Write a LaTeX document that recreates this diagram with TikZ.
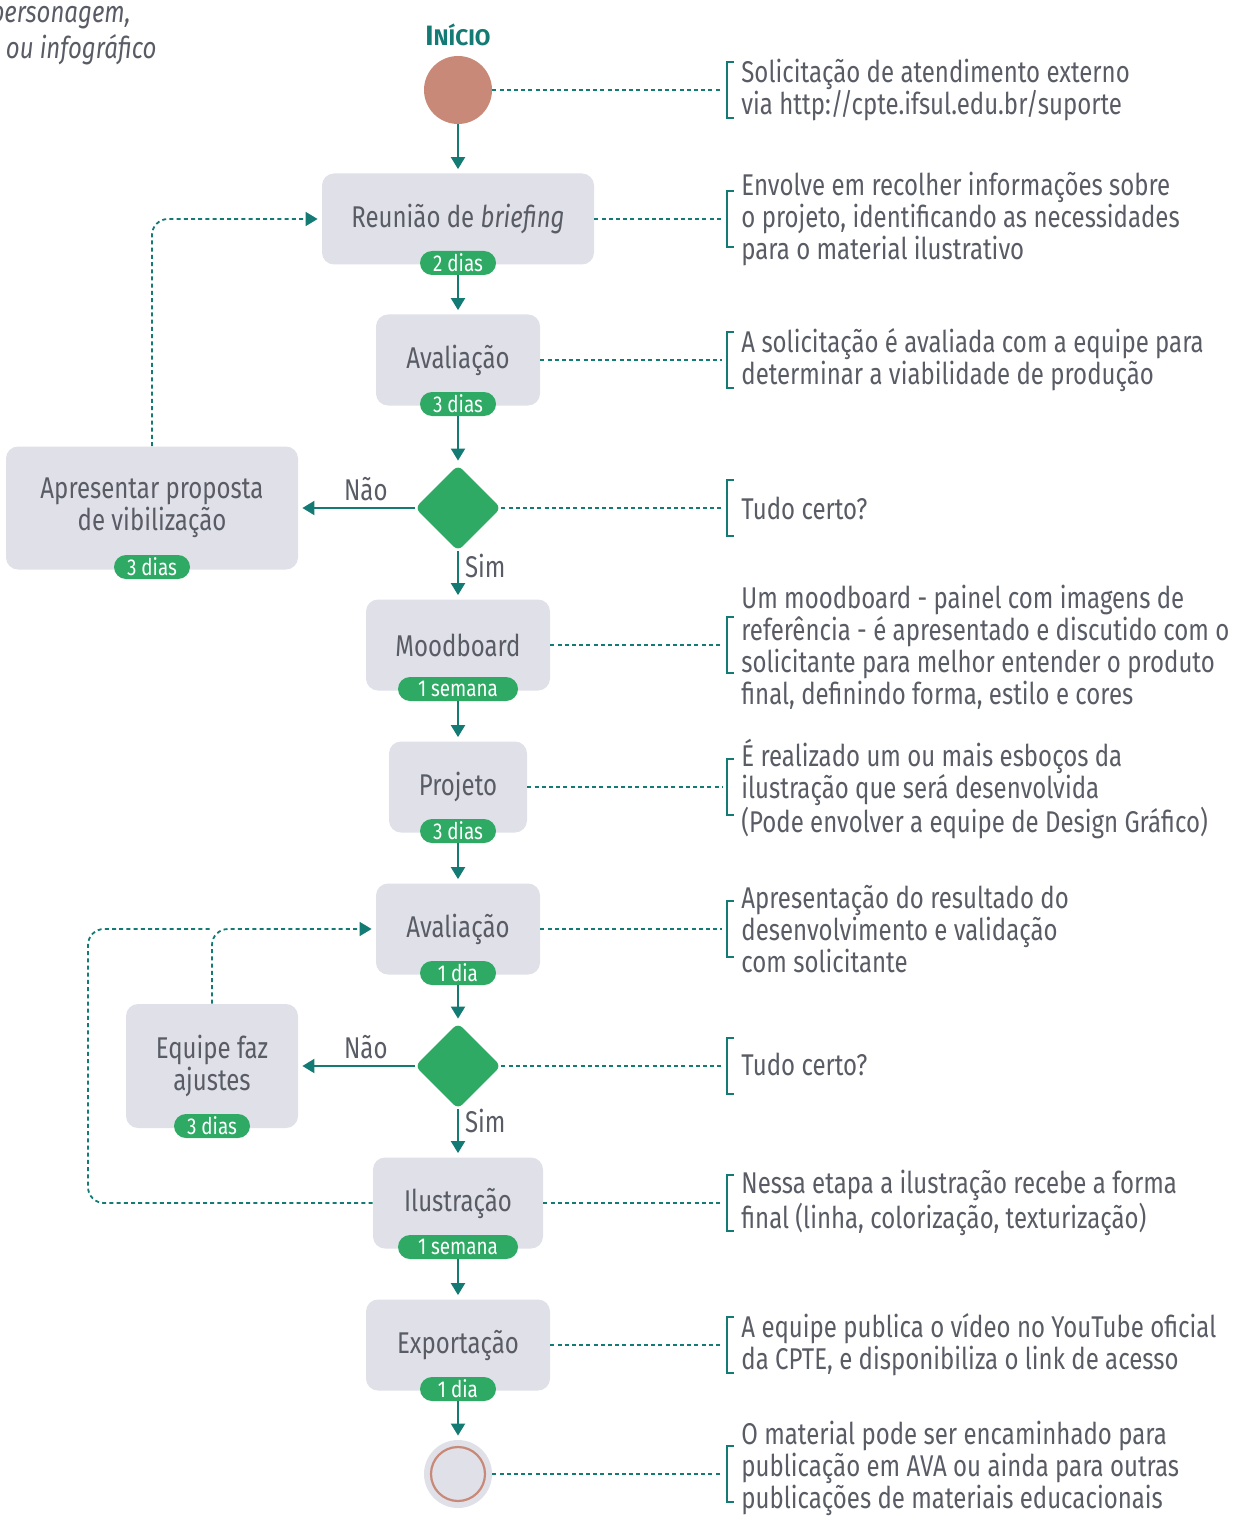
\documentclass[tikz,border=0pt]{standalone}
\usepackage{fontspec}
\setmainfont{Fira Sans}[FakeStretch=0.8]
\newfontfamily\badgefont{Fira Sans}[FakeStretch=0.82]
\newfontfamily\titlefont{Fira Sans}
\usetikzlibrary{arrows.meta,shapes.geometric,calc}
\definecolor{tealc}{HTML}{137B73}
\definecolor{grn}{HTML}{2EAA64}
\definecolor{boxg}{HTML}{DFE0E8}
\definecolor{txtg}{HTML}{595C65}
\definecolor{salmon}{HTML}{C98978}
\newcommand\mybracket[1]{\draw[brk] ($(#1)+(7,-28)$) -- ($(#1)+(0,-28)$) -- ($(#1)+(0,28)$) -- ($(#1)+(7,28)$);}
\begin{document}
\begin{tikzpicture}[x=0.5pt,y=-0.5pt,
  stepbox/.style={fill=boxg, rounded corners=6pt, inner sep=0pt, align=center, text=txtg, font=\fontsize{15}{16}\selectfont},
  badge/.style={fill=grn, rounded corners=6pt, text=white, inner sep=0pt, minimum height=12pt, minimum width=38pt, font=\badgefont\fontsize{11.5}{12}\selectfont},
  decision/.style={diamond, fill=grn, minimum width=43pt, minimum height=43pt, inner sep=0pt, rounded corners=3pt},
  arr/.style={draw=tealc, line width=1pt, -{Triangle[width=7pt,length=6pt]}, shorten >=2pt},
  dotline/.style={draw=tealc, line width=0.9pt, dash pattern=on 2pt off 1.6pt},
  dotarr/.style={dotline, -{Triangle[width=7pt,length=6pt]}, shorten >=2pt},
  brk/.style={draw=tealc, line width=1.4pt},
  rtext/.style={anchor=west, align=left, inner sep=0pt, text=txtg, font=\fontsize{15}{16}\selectfont},
  lbl/.style={text=txtg, inner sep=0pt, font=\fontsize{15}{16}\selectfont}]
\useasboundingbox (0,0) rectangle (1249,1519);
\clip (0,0) rectangle (1249,1519);

% top-left fragments
\node[anchor=east, inner sep=0pt, text=txtg, font=\itshape\fontsize{15}{16}\selectfont] (frag1) at (131,18) {personagem,};
\node[anchor=east, inner sep=0pt, text=txtg, font=\itshape\fontsize{15}{16}\selectfont] (frag2) at (157,50) {ou infográfico};

% start
\node[text=tealc, inner sep=0pt] (titulo) at (458,35) {\titlefont\bfseries\fontsize{14}{14}\selectfont I\fontsize{11.3}{14}\selectfont NÍCIO};
\node[circle, fill=salmon, minimum size=34pt, inner sep=0pt] (start) at (458,90) {};

% main column
\node[stepbox, minimum width=136pt, minimum height=45.5pt] (reu) at (458,219) {Reunião de \textit{briefing}};
\node[badge] (b1) at (458,263) {2 dias};
\node[stepbox, minimum width=82pt, minimum height=45.5pt] (av1) at (458,360) {Avaliação};
\node[badge] (b2) at (458,404) {3 dias};
\node[decision] (d1) at (458,508) {};
\node[stepbox, minimum width=146pt, minimum height=61.5pt] (apr) at (152,508) {Apresentar proposta\\de vibilização};
\node[badge] (b3) at (152,567) {3 dias};
\node[stepbox, minimum width=92pt, minimum height=45.5pt] (mood) at (458,645) {Moodboard};
\node[badge, minimum width=60pt] (b4) at (458,689) {1 semana};
\node[stepbox, minimum width=69pt, minimum height=45.5pt] (proj) at (458,787) {Projeto};
\node[badge] (b5) at (458,831) {3 dias};
\node[stepbox, minimum width=82pt, minimum height=45.5pt] (av2) at (458,929) {Avaliação};
\node[badge] (b6) at (458,973) {1 dia};
\node[decision] (d2) at (458,1066) {};
\node[stepbox, minimum width=86pt, minimum height=62pt] (eq) at (212,1066) {Equipe faz\\ajustes};
\node[badge] (b7) at (212,1126) {3 dias};
\node[stepbox, minimum width=85pt, minimum height=45.5pt] (ilu) at (458,1203) {Ilustração};
\node[badge, minimum width=60pt] (b8) at (458,1247) {1 semana};
\node[stepbox, minimum width=92pt, minimum height=45.5pt] (exp) at (458,1345) {Exportação};
\node[badge] (b9) at (458,1389) {1 dia};
\node[circle, fill=boxg, minimum size=34pt, inner sep=0pt] (fim) at (458,1474) {};
\node[circle, draw=salmon, line width=1.1pt, minimum size=27pt, inner sep=0pt] (fimring) at (fim) {};

% arrows
\draw[arr] (start) -- (reu);
\draw[arr] (b1) -- (av1);
\draw[arr] (b2) -- (d1);
\draw[arr] (d1) -- node[lbl, pos=0.42, above=3pt] (nao1) {Não} (apr);
\draw[arr] (d1) -- node[lbl, pos=0.3, right=3pt] (sim1) {Sim} (mood);
\draw[arr] (b4) -- (proj);
\draw[arr] (b5) -- (av2);
\draw[arr] (b6) -- (d2);
\draw[arr] (d2) -- node[lbl, pos=0.42, above=3pt] (nao2) {Não} (eq);
\draw[arr] (d2) -- node[lbl, pos=0.25, right=3pt] (sim2) {Sim} (ilu);
\draw[arr] (b8) -- (exp);
\draw[arr] (b9) -- (fim);

% loops
\draw[dotarr, rounded corners=8pt] (apr.north) |- (reu.west);
\draw[dotarr, rounded corners=8pt] (eq.north) |- (av2.west);
\coordinate (loopL) at (88,929);
\draw[dotline, rounded corners=8pt] (ilu.west) -| (loopL) -- (eq.north |- loopL);

% right annotations
\coordinate (k1) at (727,90);
\coordinate (k2) at (727,219);
\coordinate (k3) at (727,360);
\coordinate (k4) at (727,508);
\coordinate (k5) at (727,645);
\coordinate (k6) at (727,787);
\coordinate (k7) at (727,929);
\coordinate (k8) at (727,1066);
\coordinate (k9) at (727,1203);
\coordinate (k10) at (727,1345);
\coordinate (k11) at (727,1474);

\draw[dotline, shorten >=2.5pt] (start) -- (k1);
\draw[dotline, shorten >=2.5pt] (reu) -- (k2);
\draw[dotline, shorten >=2.5pt] (av1) -- (k3);
\draw[dotline, shorten >=2.5pt] (d1) -- (k4);
\draw[dotline, shorten >=2.5pt] (mood) -- (k5);
\draw[dotline, shorten >=2.5pt] (proj) -- (k6);
\draw[dotline, shorten >=2.5pt] (av2) -- (k7);
\draw[dotline, shorten >=2.5pt] (d2) -- (k8);
\draw[dotline, shorten >=2.5pt] (ilu) -- (k9);
\draw[dotline, shorten >=2.5pt] (exp) -- (k10);
\draw[dotline, shorten >=2.5pt] (fim) -- (k11);

\foreach \k in {k1,k2,k3,k4,k5,k6,k7,k8,k9,k10,k11} {\mybracket{\k}}

\node[rtext] (r1) at ($(k1)+(14,0)$) {Solicitação de atendimento externo\\via http://cpte.ifsul.edu.br/suporte};
\node[rtext] (r2) at ($(k2)+(14,0)$) {Envolve em recolher informações sobre\\o projeto, identificando as necessidades\\para o material ilustrativo};
\node[rtext] (r3) at ($(k3)+(14,0)$) {A solicitação é avaliada com a equipe para\\determinar a viabilidade de produção};
\node[rtext] (r4) at ($(k4)+(14,0)$) {Tudo certo?};
\node[rtext] (r5) at ($(k5)+(14,2)$) {Um moodboard - painel com imagens de\\referência - é apresentado e discutido com o\\solicitante para melhor entender o produto\\final, definindo forma, estilo e cores};
\node[rtext] (r6) at ($(k6)+(14,2)$) {É realizado um ou mais esboços da\\ilustração que será desenvolvida\\(Pode envolver a equipe de Design Gráfico)};
\node[rtext] (r7) at ($(k7)+(14,0)$) {Apresentação do resultado do\\desenvolvimento e validação\\com solicitante};
\node[rtext] (r8) at ($(k8)+(14,-2)$) {Tudo certo?};
\node[rtext] (r9) at ($(k9)+(14,0)$) {Nessa etapa a ilustração recebe a forma\\final (linha, colorização, texturização)};
\node[rtext] (r10) at ($(k10)+(14,0)$) {A equipe publica o vídeo no YouTube oficial\\da CPTE, e disponibiliza o link de acesso};
\node[rtext] (r11) at ($(k11)+(14,-6)$) {O material pode ser encaminhado para\\publicação em AVA ou ainda para outras\\publicações de materiais educacionais};
\end{tikzpicture}
\end{document}
